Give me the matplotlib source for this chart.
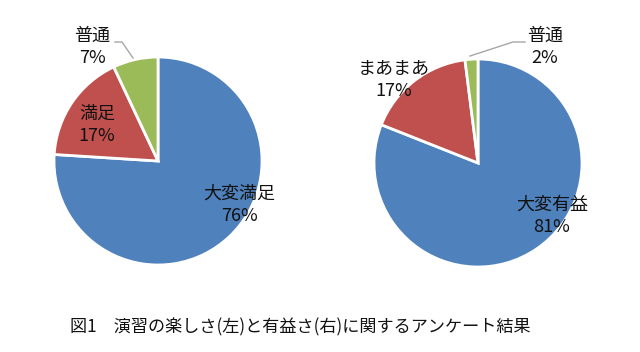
import matplotlib
matplotlib.use("Agg")
import matplotlib.pyplot as plt

plt.rcParams['font.family'] = ['Noto Sans CJK JP', 'DejaVu Sans']

left_labels = ["大変満足", "満足", "普通"]
left_values = [76, 17, 7]
right_labels = ["大変有益", "まあまあ", "普通"]
right_values = [81, 17, 2]
colors = ["#4F81BD", "#C0504D", "#9BBB59"]
title = "図1　演習の楽しさ(左)と有益さ(右)に関するアンケート結果"

W, H = 640, 352
fig = plt.figure(figsize=(W / 100, H / 100), dpi=100)
ax = fig.add_axes([0, 0, 1, 1])

def Y(py):
    return H - py

pies = [
    (left_labels, left_values, (158, Y(161)),
     [(239, 205), (97, 125), (92, 47)],
     [(115, 42), (122, 42), (133, 58)]),
    (right_labels, right_values, (478, Y(163)),
     [(552, 216), (394, 80), (545, 47)],
     [(525, 42), (513, 42), (470, 56)]),
]

for labels, values, center, label_pos, leader in pies:
    ax.pie(values, colors=colors, startangle=90, counterclock=False,
           center=center, radius=104, frame=True,
           wedgeprops=dict(edgecolor='white', linewidth=2))
    for lab, val, (px, py) in zip(labels, values, label_pos):
        ax.text(px, Y(py), f"{lab}\n{val}%", ha='center', va='center',
                fontsize=13, linespacing=1.35, color='#111111')
    xs = [p[0] for p in leader]
    ys = [Y(p[1]) for p in leader]
    ax.plot(xs, ys, color='#A6A6A6', lw=1)

ax.set_xlim(0, W)
ax.set_ylim(0, H)
ax.set_aspect('equal')
ax.axis('off')

ax.text(300, Y(327), title, ha='center', va='center', fontsize=12.3, color='#111111')

fig.savefig("out.png", dpi=100)
